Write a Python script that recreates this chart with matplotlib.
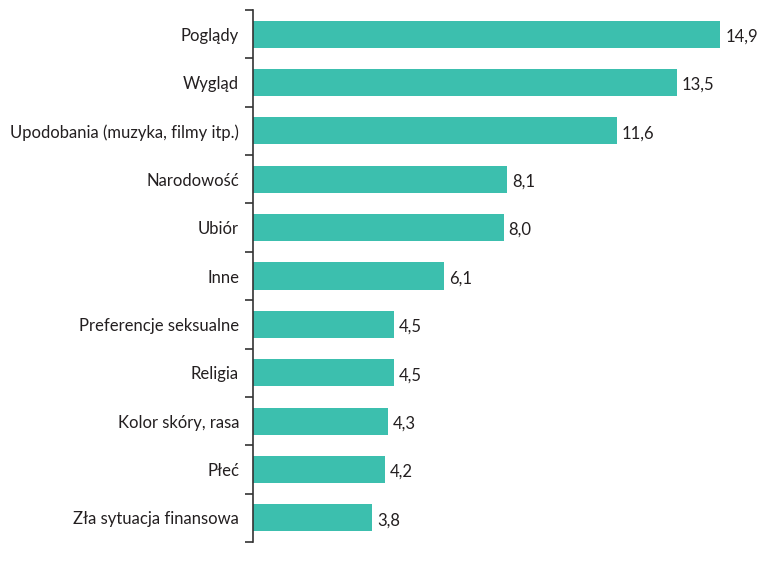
import matplotlib.pyplot as plt
import numpy as np

# dane z wykresu
kategorie = ['Poglądy', 'Wygląd', 'Upodobania (muzyka, filmy itp.)', 'Narodowość',
             'Ubiór', 'Inne', 'Preferencje seksualne', 'Religia',
             'Kolor skóry, rasa', 'Płeć', 'Zła sytuacja finansowa']
wartosci = [14.9, 13.5, 11.6, 8.1, 8.0, 6.1, 4.5, 4.5, 4.3, 4.2, 3.8]

plt.rcParams['font.family'] = ['Lato', 'DejaVu Sans']

fig = plt.figure(figsize=(7.78, 5.64), dpi=100)
ax = fig.add_axes([253 / 778, 1 - 542 / 564, (755 - 253) / 778, 532 / 564])

y = np.arange(len(kategorie))
ax.barh(y, wartosci, height=0.56, color='#3cbfae')
ax.set_ylim(len(kategorie) - 0.5, -0.5)
ax.set_xlim(0, 16)

for yi, v in zip(y, wartosci):
    ax.text(v + 0.15, yi + 0.05, f'{v:.1f}'.replace('.', ','), va='center', ha='left',
            fontsize=12, color='#231f20')

ax.set_yticks(y)
ax.set_yticklabels(kategorie, fontsize=12, color='#231f20')
ax.set_yticks(np.arange(-0.5, len(kategorie)), minor=True)
ax.tick_params(axis='y', which='major', length=0, pad=10)
ax.tick_params(axis='y', which='minor', length=6, width=1.2, color='#333333')

ax.set_xticks([])
for s in ['top', 'right', 'bottom']:
    ax.spines[s].set_visible(False)
ax.spines['left'].set_color('#333333')
ax.spines['left'].set_linewidth(1.2)

fig.savefig('out.png', dpi=100)
